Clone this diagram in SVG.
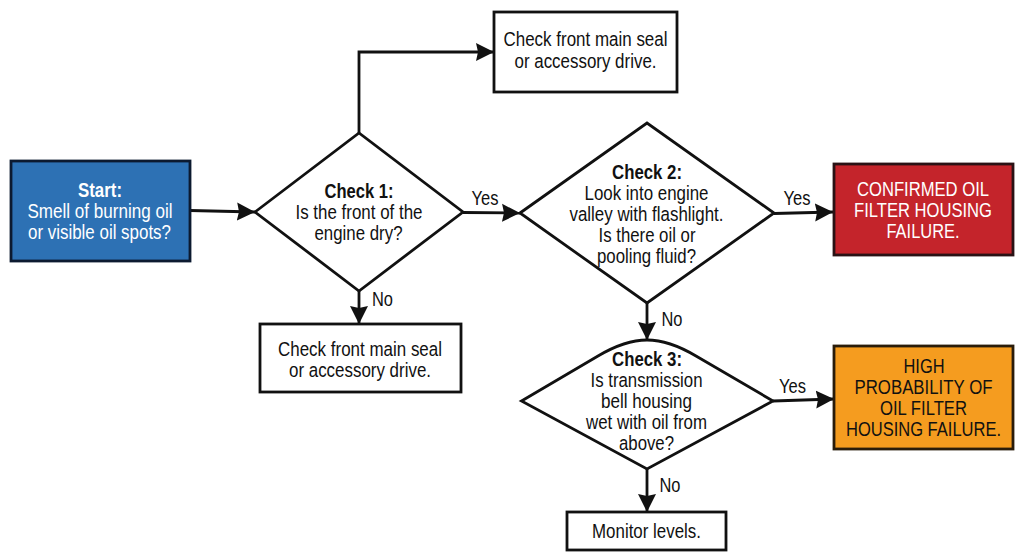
<svg xmlns="http://www.w3.org/2000/svg" width="1024" height="559" viewBox="0 0 1024 559">
<style>
text{font-family:"Liberation Sans",Arial,sans-serif;font-size:20.5px;fill:#111;text-anchor:middle}
.b{font-weight:bold}
.w{fill:#fff}
.box{stroke:#111;stroke-width:2.8;fill:#fff}
.c{fill:none;stroke:#111;stroke-width:2.8;marker-end:url(#a)}
</style>
<defs>
<marker id="a" markerUnits="userSpaceOnUse" markerWidth="20" markerHeight="20" refX="18" refY="10" orient="auto">
<path d="M0 1L18 10L0 19L2 10Z" fill="#111"/>
</marker>
</defs>
<rect width="1024" height="559" fill="#fff"/>
<g id="connectors">
<path class="c" d="M190 210.500L255 212"/>
<path class="c" d="M463 212.500L520 213"/>
<path class="c" d="M774 213.500L833 212"/>
<path class="c" d="M773 401L834 399"/>
<path class="c" d="M359 133V52H494"/>
<path class="c" d="M359 291V324"/>
<path class="c" d="M647 303V340"/>
<path class="c" d="M647 469V512"/>
</g>
<g id="labels">
<text x="485" y="205" textLength="27" lengthAdjust="spacingAndGlyphs">Yes</text>
<text x="382.500" y="306" textLength="21" lengthAdjust="spacingAndGlyphs">No</text>
<text x="797" y="205" textLength="27" lengthAdjust="spacingAndGlyphs">Yes</text>
<text x="672" y="326" textLength="21" lengthAdjust="spacingAndGlyphs">No</text>
<text x="792.500" y="393" textLength="27" lengthAdjust="spacingAndGlyphs">Yes</text>
<text x="670" y="492" textLength="21" lengthAdjust="spacingAndGlyphs">No</text>
</g>
<g id="start">
<rect x="11" y="161" width="179" height="100" fill="#2d71b4" stroke="#0c1a30" stroke-width="2.800"/>
<text class="b w" x="100" y="197" textLength="44" lengthAdjust="spacingAndGlyphs">Start:</text>
<text class="w" x="100" y="218" textLength="145" lengthAdjust="spacingAndGlyphs">Smell of burning oil</text>
<text class="w" x="99.500" y="239" textLength="143" lengthAdjust="spacingAndGlyphs">or visible oil spots?</text>
</g>
<g id="check1">
<path class="box" d="M255 212L359 133L463 212L359 291Z"/>
<text class="b" x="359" y="198" textLength="69" lengthAdjust="spacingAndGlyphs">Check 1:</text>
<text x="359" y="219" textLength="127" lengthAdjust="spacingAndGlyphs">Is the front of the</text>
<text x="358.500" y="240" textLength="88" lengthAdjust="spacingAndGlyphs">engine dry?</text>
</g>
<g id="seal-top">
<rect class="box" x="494" y="12" width="183" height="80"/>
<text x="585.500" y="46" textLength="164" lengthAdjust="spacingAndGlyphs">Check front main seal</text>
<text x="585.500" y="68" textLength="142" lengthAdjust="spacingAndGlyphs">or accessory drive.</text>
</g>
<g id="seal-bottom">
<rect class="box" x="260" y="324" width="201" height="68"/>
<text x="360" y="356" textLength="164" lengthAdjust="spacingAndGlyphs">Check front main seal</text>
<text x="360" y="377" textLength="142" lengthAdjust="spacingAndGlyphs">or accessory drive.</text>
</g>
<g id="check2">
<path class="box" d="M520 213L647 123L774 213L647 303Z"/>
<text class="b" x="647" y="179" textLength="70" lengthAdjust="spacingAndGlyphs">Check 2:</text>
<text x="646.500" y="200" textLength="124" lengthAdjust="spacingAndGlyphs">Look into engine</text>
<text x="646.500" y="221" textLength="154" lengthAdjust="spacingAndGlyphs">valley with flashlight.</text>
<text x="647" y="242" textLength="97" lengthAdjust="spacingAndGlyphs">Is there oil or</text>
<text x="646.500" y="263" textLength="99" lengthAdjust="spacingAndGlyphs">pooling fluid?</text>
</g>
<g id="check3">
<path class="box" d="M521.500 401L598 356Q625 340 647 340Q669 340 696 356L773 401L647 469Z"/>
<text class="b" x="647" y="366" textLength="70" lengthAdjust="spacingAndGlyphs">Check 3:</text>
<text x="646.500" y="387" textLength="112" lengthAdjust="spacingAndGlyphs">Is transmission</text>
<text x="646.500" y="408" textLength="91" lengthAdjust="spacingAndGlyphs">bell housing</text>
<text x="646.500" y="429" textLength="121" lengthAdjust="spacingAndGlyphs">wet with oil from</text>
<text x="646.500" y="450" textLength="55" lengthAdjust="spacingAndGlyphs">above?</text>
</g>
<g id="confirmed">
<rect x="834" y="164" width="179" height="91" fill="#c4242b" stroke="#2a1215" stroke-width="2.800"/>
<text class="w" x="923" y="196" textLength="132" lengthAdjust="spacingAndGlyphs">CONFIRMED OIL</text>
<text class="w" x="923" y="217" textLength="138" lengthAdjust="spacingAndGlyphs">FILTER HOUSING</text>
<text class="w" x="923" y="238" textLength="73" lengthAdjust="spacingAndGlyphs">FAILURE.</text>
</g>
<g id="high">
<rect x="834" y="346" width="179" height="103" fill="#f59c1f" stroke="#2a1c0a" stroke-width="2.800"/>
<text x="924" y="373" textLength="41" lengthAdjust="spacingAndGlyphs">HIGH</text>
<text x="923.500" y="394" textLength="138" lengthAdjust="spacingAndGlyphs">PROBABILITY OF</text>
<text x="923.500" y="415" textLength="87" lengthAdjust="spacingAndGlyphs">OIL FILTER</text>
<text transform="translate(923.500 436) scale(.806 1)">HOUSING FAILURE.</text>
</g>
<g id="monitor">
<rect class="box" x="567" y="512" width="159" height="38"/>
<text x="646.500" y="538" textLength="109" lengthAdjust="spacingAndGlyphs">Monitor levels.</text>
</g>
</svg>
